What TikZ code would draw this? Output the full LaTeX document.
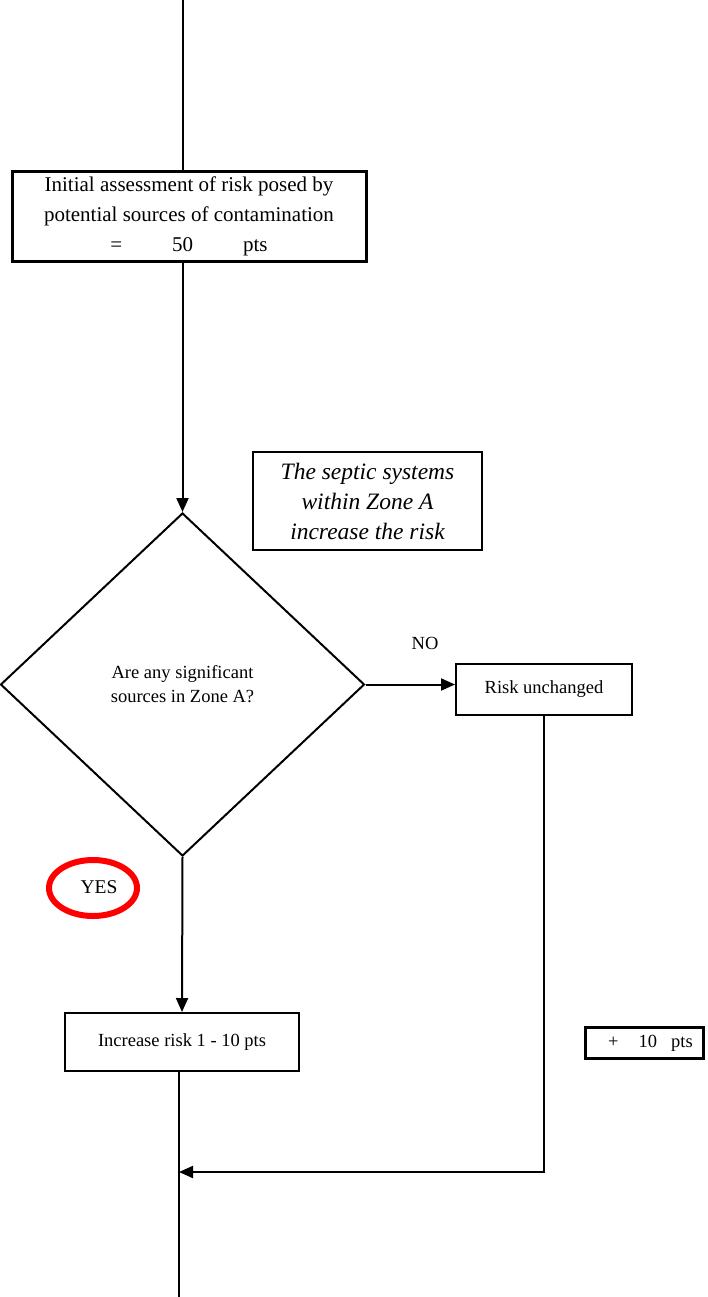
\documentclass[tikz,border=0pt]{standalone}
\usepackage{fontspec}
\setmainfont{Liberation Serif}
\usetikzlibrary{shapes.geometric,arrows.meta}
\begin{document}
\begin{tikzpicture}[x=1pt,y=-1pt,
  line/.style={line width=2pt},
  arr/.style={line width=2pt,-{Triangle[length=14pt,width=12pt]}},
  thickbox/.style={draw,line width=3pt,inner sep=0pt,align=center},
  thinbox/.style={draw,line width=2pt,inner sep=0pt,align=center},
  smalltext/.style={font=\fontsize{18.5}{24}\selectfont},
]
\useasboundingbox (0,0) rectangle (707,1297);

% boxes and decision
\node[thickbox,minimum width=354,minimum height=89,font=\fontsize{21}{30}\selectfont]
  (init) at (189,216.5)
  {Initial assessment of risk posed by\\potential sources of contamination\\=\hspace{50pt}50\hspace{50pt}pts};
\node[thinbox,minimum width=229,minimum height=98,font=\itshape\fontsize{23.5}{30}\selectfont]
  (note) at (367.5,501) {The septic systems\\within Zone A\\increase the risk};
\node[draw,diamond,line width=2pt,minimum width=364,minimum height=343,inner sep=0pt,
  align=center,smalltext] (dec) at (182.5,684.5) {Are any significant\\sources in Zone A?};
\node[thinbox,minimum width=176,minimum height=51,smalltext] (same) at (544,689.5) {Risk unchanged};
\node[smalltext] (no) at (425,643) {NO};
\node[draw=red,ellipse,line width=6pt,minimum width=88,minimum height=56] (yesring) at (93,888) {};
\node[font=\fontsize{19.5}{24}\selectfont] (yes) at (99,887) {YES};
\node[thinbox,minimum width=234,minimum height=58,smalltext] (inc) at (182,1042) {Increase risk 1 - 10 pts};
\node[thickbox,minimum width=118,minimum height=31,smalltext] (plus) at (644.5,1043)
  {\hspace*{6pt}+\hspace{20pt}10\hspace{14pt}pts\hspace*{-6pt}};

% connectors
\coordinate (top) at (183,0);
\coordinate (bottom) at (179,1297);
\coordinate (join) at (179,1172);
\draw[line] (top) -- (top |- init.north);
\draw[arr] (dec.north |- init.south) -- (dec.north);
\draw[arr] (dec.east) -- (dec.east -| same.west);
\draw[arr] (dec.south) -- (inc.north);
\draw[line] (bottom |- inc.south) -- (bottom);
\draw[arr] (same.south) |- (join);
\end{tikzpicture}
\end{document}
